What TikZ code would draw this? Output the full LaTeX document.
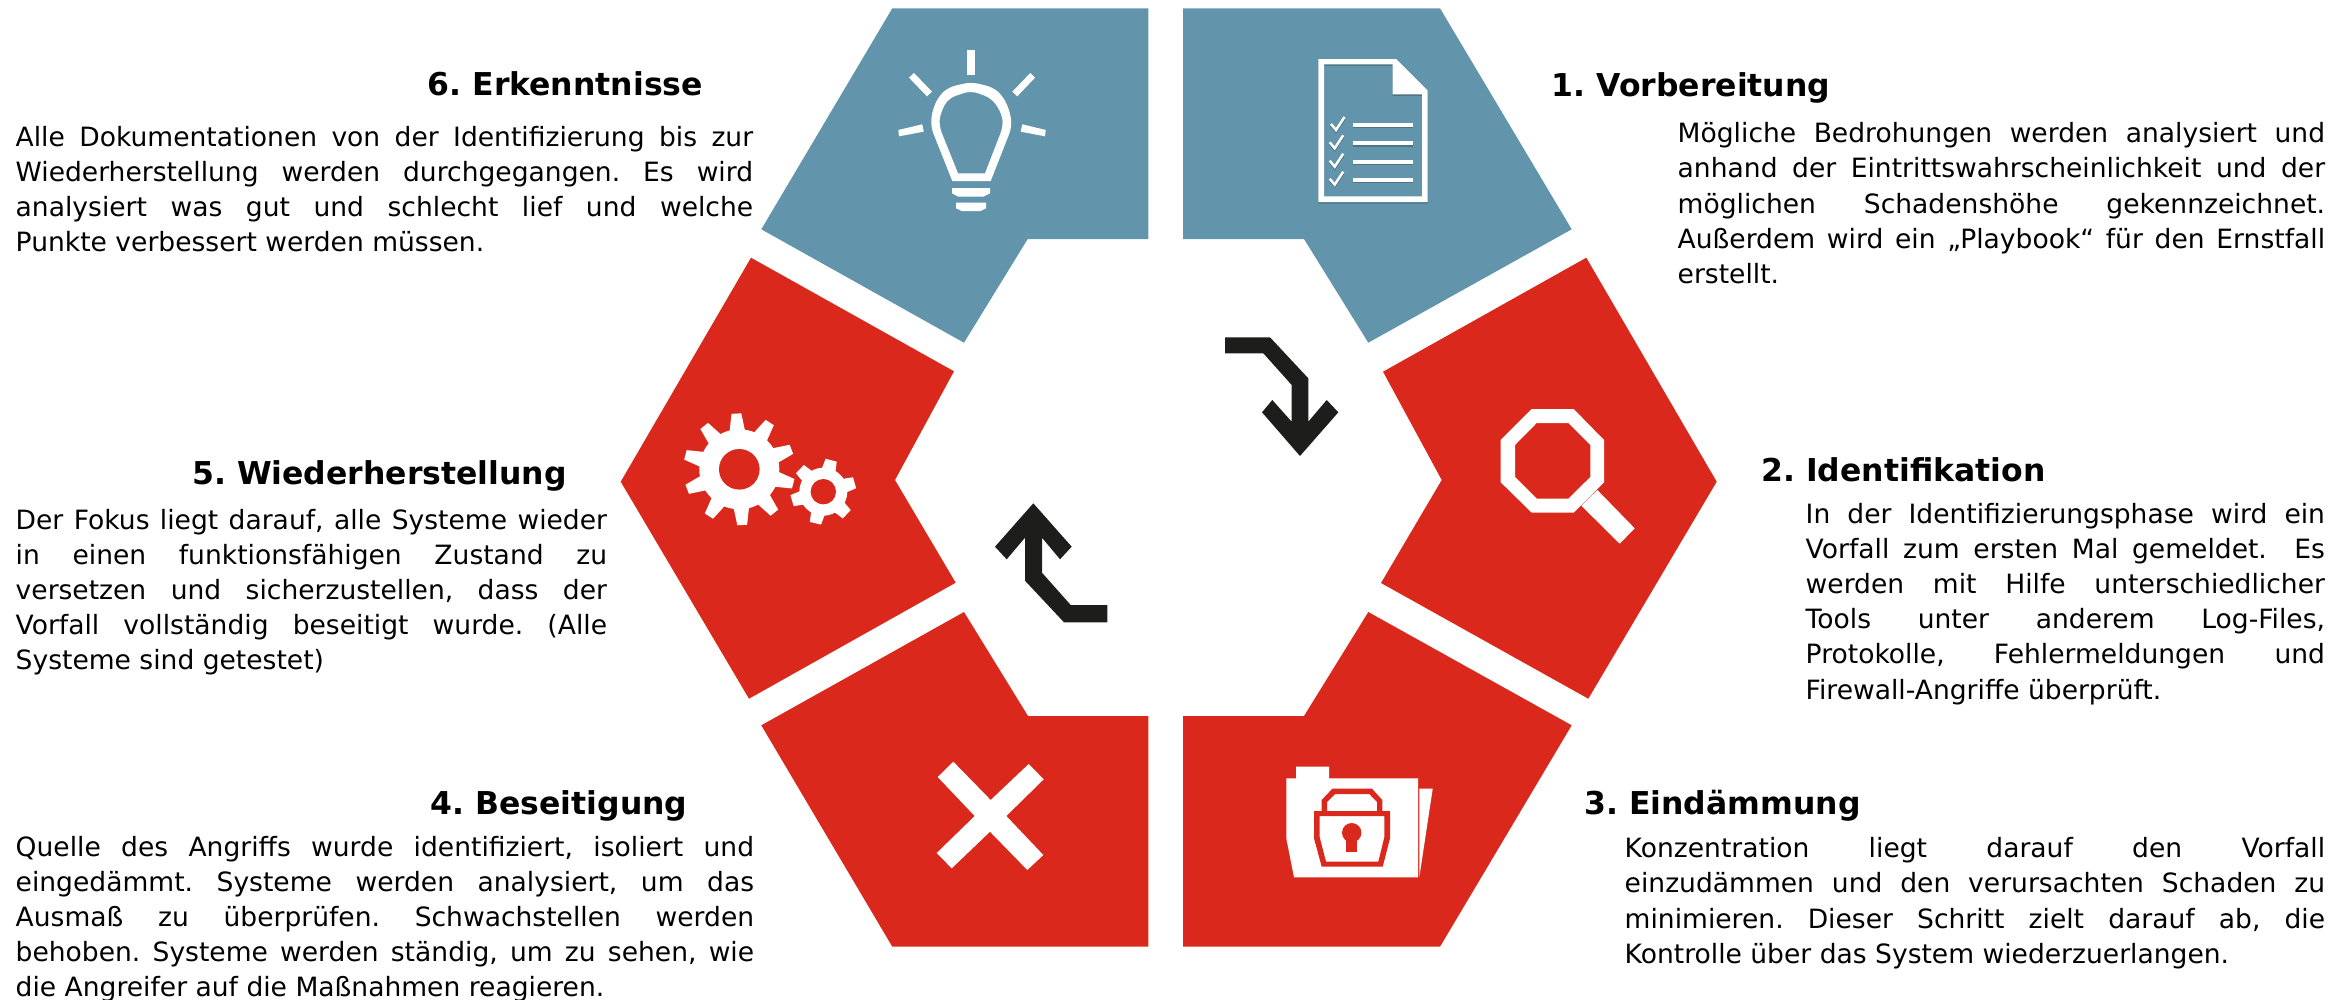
\documentclass[tikz,border=0pt]{standalone}
\usepackage{fontspec}
\setmainfont{DejaVu Sans}
\definecolor{phaseblue}{HTML}{6295AC}
\definecolor{phasered}{HTML}{DA291C}
\definecolor{arrowblack}{HTML}{1D1D1B}
\tolerance=9999
\tikzset{
	blueseg/.style={
		fill=phaseblue,
	},
	redseg/.style={
		fill=phasered,
	},
	turnarrow/.style={
		fill=arrowblack,
	},
	icon/.style={
		fill=white,
	},
	phasetitle/.style={
		anchor=base west,
		inner sep=0pt,
		font=\fontsize{8.95}{11}\selectfont\bfseries\frenchspacing,
	},
	phasetext/.style={
		anchor=base west,
		inner sep=0pt,
		align=justify,
		font=\fontsize{7.55}{10}\selectfont\frenchspacing,
	},
}
\begin{document}
\begin{tikzpicture}[x=0.01cm,y=-0.01cm]
	\useasboundingbox (0,0) rectangle (2348,1000);

	% segments
	\fill[blueseg] (1183,8.3) -- (1440,8.3) -- (1571.7,229.3) -- (1368.3,342.7) -- (1304,239) -- (1183,239) -- cycle;
	\fill[redseg]  (1586.3,257.7) -- (1716.7,481.7) -- (1588.3,698.7) -- (1381,583) -- (1441.7,480) -- (1383,371.7) -- cycle;
	\fill[redseg]  (1183,716) -- (1304,716) -- (1368.3,612) -- (1571.7,725.3) -- (1440,946.7) -- (1183,946.7) -- cycle;
	\fill[redseg]  (964,612) -- (1028,716) -- (1148.3,716) -- (1148.3,946.7) -- (892.3,946.7) -- (761.3,725.3) -- cycle;
	\fill[redseg]  (751,257.7) -- (954,371.3) -- (895,480) -- (955.7,582.7) -- (749,698.7) -- (620.7,481.7) -- cycle;
	\fill[blueseg] (892.3,8.3) -- (1148.3,8.3) -- (1148.3,239) -- (1027.7,239) -- (964,342.7) -- (761.3,229.3) -- cycle;

	% arrows in the middle
	\fill[turnarrow] (1225,337.3) -- (1270,337.3) -- (1308.3,378.3) -- (1308.3,421.7) -- (1326.7,400) -- (1338.3,412.3) -- (1300,456)
		-- (1262,412.3) -- (1272.3,400) -- (1291.7,421.7) -- (1291.7,385) -- (1263.3,353.3) -- (1225,353.3) -- cycle;
	\fill[turnarrow] (1033.3,503.3) -- (1071.7,546.7) -- (1060,559.3) -- (1042,537.7) -- (1042,572.7) -- (1070.7,605) -- (1107.3,605)
		-- (1107.3,622.3) -- (1064,622.3) -- (1025,580.7) -- (1025,537.7) -- (1006.7,559.3) -- (995,546.7) -- cycle;

	% document icon, first its shadow
	\foreach \col/\sh in {phaseblue!78!black/1.5,white/0}{
		\begin{scope}[shift={(0,\sh)}]
			\fill[\col,even odd rule] (1318.3,59) -- (1396,59) -- (1427.7,90.7) -- (1427.7,202) -- (1318.3,202) -- cycle
				(1324,64.3) -- (1392.7,64.3) -- (1392.7,94.3) -- (1422,94.3) -- (1422,196.3) -- (1324,196.3) -- cycle;
			\foreach \ly/\cx in {125/0,143.3/-1.3,161.7/-1.3,179.7/-1.3}{
				\draw[\col,line width=1.1pt] (1352.7,\ly) -- (1412.7,\ly);
				\draw[\col,line width=0.7pt] (1331+\cx,\ly-1) -- (1336+\cx,\ly+5) -- (1344.5+\cx,\ly-8);
			}
		\end{scope}
	}

	% magnifier
	\fill[icon,even odd rule] (1531.7,409) -- (1573.7,409) -- (1604,440) -- (1604,482.3) -- (1573.7,512.7) -- (1531.7,512.7) -- (1500.7,482.3) -- (1500.7,440) -- cycle
		(1536.7,423) -- (1568.3,423) -- (1590.3,445) -- (1590.3,477) -- (1568.3,498.7) -- (1536.7,498.7) -- (1515,477) -- (1515,445) -- cycle;
	\fill[icon] (1597.3,490) -- (1634.7,528.3) -- (1619.7,543.7) -- (1581.3,505.7) -- cycle;

	% folder with lock
	\fill[icon] (1286.3,778.3) -- (1296,778.3) -- (1296,766.7) -- (1329,766.7) -- (1329,778.3) -- (1418,778.3) -- (1418,877.3) -- (1294,877.3) -- (1286.3,838.3) -- cycle;
	\fill[icon] (1419.3,788.7) -- (1432.7,788.7) -- (1419.3,877.3) -- cycle;
	\fill[redseg,even odd rule] (1321.7,811) -- (1321.7,800) -- (1332.3,788.7) -- (1372,788.7) -- (1382.3,800) -- (1382.3,811) -- cycle
		(1327,811) -- (1327,802) -- (1335,794) -- (1369.3,794) -- (1377,802) -- (1377,811) -- cycle;
	\fill[redseg,even odd rule] (1314,811) -- (1390,811) -- (1390,838.3) -- (1382.7,866.7) -- (1321.7,866.7) -- (1314,838.3) -- cycle
		(1319.7,816) -- (1384.3,816) -- (1384.3,837.3) -- (1378.3,861.7) -- (1326,861.7) -- (1319.7,837.3) -- cycle;
	\fill[redseg] (1351.7,832.7) circle[radius=9.7];
	\fill[redseg] (1346.3,836) rectangle (1357,851.7);

	% cross
	\fill[icon] (953.3,761.7) -- (990.7,800) -- (1028.7,764) -- (1043.7,779.3) -- (1006.3,816) -- (1043.3,855) -- (1027.3,870)
		-- (990,831.7) -- (951.7,868.3) -- (936.7,853) -- (974.7,816) -- (937.7,777) -- cycle;

	% gears
	\begin{scope}[shift={(739.3,469.3)}]
		\fill[icon] (0,0) circle[radius=40];
		\foreach \a in {0,36,...,324}{
			\fill[icon] (\a-93-12:38) -- (\a-93-5:56) -- (\a-93+5:56) -- (\a-93+12:38) -- cycle;
		}
		\fill[redseg] (0,0) circle[radius=20.3];
	\end{scope}
	\begin{scope}[shift={(823.3,491.7)}]
		\fill[icon] (0,0) circle[radius=24];
		\foreach \a in {0,60,...,300}{
			\fill[icon] (\a-76-19:22) -- (\a-76-10:33) -- (\a-76+10:33) -- (\a-76+19:22) -- cycle;
		}
		\fill[redseg] (0,0) circle[radius=12.7];
	\end{scope}

	% bulb
	\fill[icon,even odd rule] (952.3,181) [rounded corners=2pt] -- (930.7,126.7) -- (932,111.7) -- (938.3,96.7) -- (948.3,87.3) -- (971,82) -- (993.3,87.3) -- (1003.3,96.7) -- (1010,111.7) -- (1012,126.7) [sharp corners] -- (990.7,181) -- cycle
		(958,173.3) [rounded corners=2pt] -- (939,126) -- (940.3,113.3) -- (948.3,98.3) -- (971,90.7) -- (991.7,98.3) -- (1001.7,113.3) -- (1003.3,126) [sharp corners] -- (985,173.3) -- cycle;
	\fill[icon] (952,188) -- (990,188) -- (990,193.3) -- (983.3,196.7) -- (958.3,196.7) -- (952,193.3) -- cycle;
	\fill[icon] (956,202.7) -- (986,202.7) -- (986,208.3) -- (980.7,211) -- (961.7,211) -- (956,208.3) -- cycle;
	\fill[icon] (967,50) rectangle (975,75);
	\fill[icon] (1012.3,91.7) -- (1017.3,96.3) -- (1035,77.7) -- (1030.3,73) -- cycle;
	\fill[icon] (909,77.7) -- (914,73) -- (932,91.7) -- (927,96.3) -- cycle;
	\fill[icon] (898.3,130) -- (922.3,124.3) -- (923.7,131.7) -- (899,136.3) -- cycle;
	\fill[icon] (1020.7,131.7) -- (1022.3,124.3) -- (1045.7,130) -- (1045,136.3) -- cycle;

	\node[phasetitle] (prep) at (1551,96) {1. Vorbereitung};
	\node[phasetext,text width=6.47cm] (preptext) at (1677,142.7) {Mögliche Bedrohungen werden analysiert und\linebreak anhand der Eintrittswahrscheinlichkeit und der\linebreak möglichen Schadenshöhe gekennzeichnet.\linebreak Außerdem wird ein „Playbook“ für den Ernstfall\linebreak erstellt.};

	\node[phasetitle] (ident) at (1760.7,481.7) {2. Identifikation};
	\node[phasetext,text width=5.19cm] (identtext) at (1805,523.3) {In der Identifizierungsphase wird ein\linebreak Vorfall zum ersten Mal gemeldet.\ \ Es\linebreak werden mit Hilfe unterschiedlicher\linebreak Tools unter anderem Log-Files,\linebreak Protokolle, Fehlermeldungen und\linebreak Firewall-Angriffe überprüft.};

	\node[phasetitle] (contain) at (1583.6,814) {3. Eindämmung};
	\node[phasetext,text width=7cm] (containtext) at (1624,857.7) {Konzentration liegt darauf den Vorfall\linebreak einzudämmen und den verursachten Schaden zu\linebreak minimieren. Dieser Schritt zielt darauf ab, die\linebreak Kontrolle über das System wiederzuerlangen.};

	\node[phasetitle] (erad) at (430,814) {4. Beseitigung};
	\node[phasetext,text width=7.38cm] (eradtext) at (15,856) {Quelle des Angriffs wurde identifiziert, isoliert und\linebreak eingedämmt. Systeme werden analysiert, um das\linebreak Ausmaß zu überprüfen. Schwachstellen werden\linebreak behoben. Systeme werden ständig, um zu sehen, wie\linebreak die Angreifer auf die Maßnahmen reagieren.};

	\node[phasetitle] (recov) at (191.5,484.6) {5. Wiederherstellung};
	\node[phasetext,text width=5.91cm] (recovtext) at (15,529.3) {Der Fokus liegt darauf, alle Systeme wieder\linebreak in einen funktionsfähigen Zustand zu\linebreak versetzen und sicherzustellen, dass der\linebreak Vorfall vollständig beseitigt wurde. (Alle\linebreak Systeme sind getestet)};

	\node[phasetitle] (lessons) at (427,95) {6. Erkenntnisse};
	\node[phasetext,text width=7.37cm] (lessonstext) at (15,146) {Alle Dokumentationen von der Identifizierung bis zur\linebreak Wiederherstellung werden durchgegangen. Es wird\linebreak analysiert was gut und schlecht lief und welche\linebreak Punkte verbessert werden müssen.};
\end{tikzpicture}
\end{document}
